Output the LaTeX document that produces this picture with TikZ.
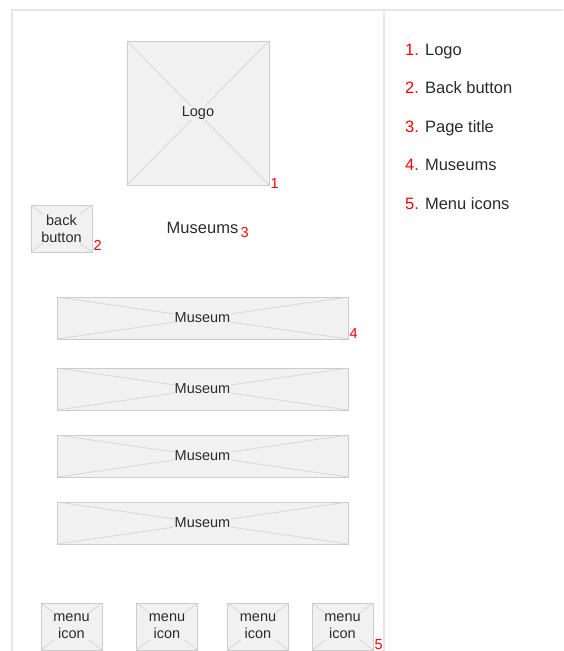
\documentclass[tikz,border=0pt]{standalone}
\usepackage{fontspec}
\setmainfont{Liberation Sans}
\usepackage{tikz}
\usetikzlibrary{positioning}
\definecolor{framegray}{HTML}{E6E6E6}
\definecolor{boxline}{HTML}{CCCCCC}
\definecolor{boxfill}{HTML}{F1F1F1}
\definecolor{crossgray}{HTML}{D4D4D4}
\definecolor{textgray}{HTML}{2B2B2B}
\definecolor{notered}{HTML}{FF0000}

\begin{document}
\begin{tikzpicture}[x=1pt,y=-1pt,
  wire/.style={draw=boxline,fill=boxfill,line width=.8pt,inner sep=0pt,
    path picture={\draw[crossgray,line width=.7pt]
      (path picture bounding box.north west)--(path picture bounding box.south east)
      (path picture bounding box.south west)--(path picture bounding box.north east);}},
  txt/.style={text=textgray,font=\fontsize{14.5}{17}\selectfont,align=center},
  tag/.style={txt,fill=boxfill,inner sep=1pt},
  num/.style={text=notered,font=\fontsize{14.5}{17}\selectfont,inner sep=1pt}]
\useasboundingbox (0,0) rectangle (563,651);
\draw[framegray,line width=2pt] (563,10)--(12,10)--(12,651);
\draw[framegray,line width=2pt] (384,10)--(384,651);

\node[wire,minimum width=142pt,minimum height=144pt,label={[tag]center:Logo}] (logo) at (198,113) {};
\node[num,anchor=south west,yshift=-4pt] (n1) at (logo.south east) {1};

\node[wire,minimum width=61pt,minimum height=47pt,label={[tag]center:back\\button}] (back) at (61.5,228.5) {};
\node[num,anchor=south west,yshift=1pt] (n2) at (back.south east) {2};

\node[txt,font=\fontsize{16.5}{20}\selectfont,inner sep=1pt] (title) at (202.5,228) {Museums};
\node[num,anchor=west,yshift=-5pt] (n3) at (title.east) {3};

\foreach \y [count=\i] in {318,389,456,523}
  \node[wire,minimum width=291pt,minimum height=42pt,label={[tag]center:Museum}] (row\i) at (202.5,\y) {};
\node[num,anchor=south west] (n4) at (row1.south east) {4};

\foreach \x [count=\i] in {71.5,167,258,342.5}
  \node[wire,minimum width=61pt,minimum height=47pt,label={[tag]center:menu\\icon}] (menu\i) at (\x,626.5) {};
\node[num,anchor=south west] (n5) at (menu4.south east) {5};

\foreach \t [count=\i] in {Logo,Back button,Page title,Museums,Menu icons}
  \node[anchor=base west,inner sep=0pt,text=textgray,font=\fontsize{16.5}{20}\selectfont] (key\i) at (405,{55+38.5*(\i-1)}) {\textcolor{notered}{\i.} \t};
\end{tikzpicture}
\end{document}
